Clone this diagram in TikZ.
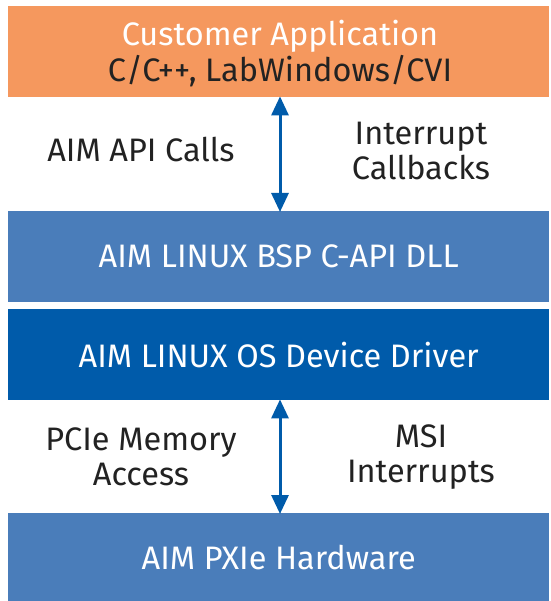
\documentclass[tikz,border=0pt]{standalone}
\usepackage{fontspec}
\setmainfont{Fira Sans}
\usetikzlibrary{arrows.meta}
\definecolor{orangebox}{RGB}{245,152,94}
\definecolor{midblue}{RGB}{74,125,186}
\definecolor{darkblue}{RGB}{0,91,170}
\definecolor{textdark}{RGB}{34,34,34}
\tikzset{
  layer/.style={minimum width=541pt, inner sep=0pt, anchor=north west, font=\fontsize{32.5}{36}\selectfont, text=white, align=center},
  lbl/.style={font=\fontsize{32.5}{35}\selectfont, text=textdark, align=center},
  biarrow/.style={draw=darkblue, line width=3pt, {Triangle[width=17pt,length=19pt]}-{Triangle[width=17pt,length=19pt]}, shorten <=-1pt, shorten >=-1pt}
}
\begin{document}
\begin{tikzpicture}[x=1pt,y=-1pt]
\useasboundingbox (0,0) rectangle (550,601);
\node[layer, fill=orangebox, minimum height=91pt] (app) at (8,6) {};
\node[font=\fontsize{32.5}{36}\selectfont, text=white] (appt) at (280,36) {Customer Application};
\node[font=\fontsize{32.5}{36}\selectfont, text=textdark] (appl) at (280,71) {C/C++, LabWindows/CVI};
\node[layer, fill=midblue, minimum height=91pt] (bsp) at (8,211) {AIM LINUX BSP C-API DLL};
\node[layer, fill=darkblue, minimum height=91pt] (drv) at (8,309) {AIM LINUX OS Device Driver};
\node[layer, fill=midblue, minimum height=88pt] (hw) at (8,513) {AIM PXIe Hardware};
\node[lbl] (calls) at (141,150) {AIM API Calls};
\node[lbl] (cb) at (421,151) {Interrupt\\Callbacks};
\node[lbl] (pcie) at (141,457) {PCIe Memory\\Access};
\node[lbl] (msi) at (421,457) {MSI\\Interrupts};
\draw[biarrow] (app.south -| 280,0) -- (bsp.north -| 280,0);
\draw[biarrow] (drv.south -| 280,0) -- (hw.north -| 280,0);
\end{tikzpicture}
\end{document}
